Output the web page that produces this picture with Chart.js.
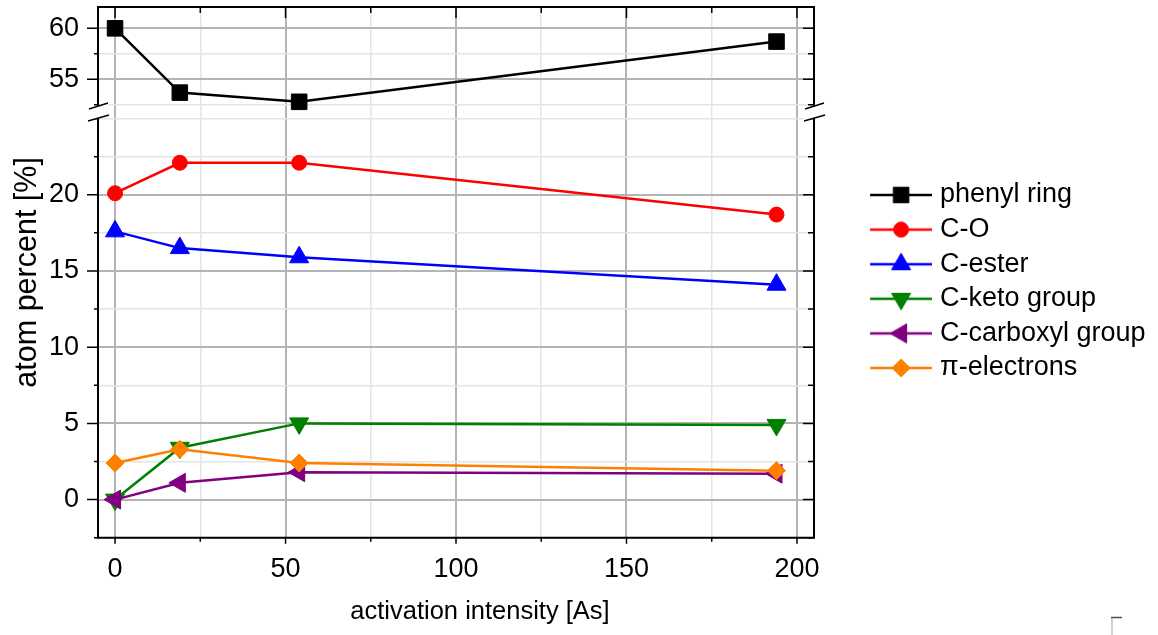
<!DOCTYPE html>
<html>
<head>
<meta charset="utf-8">
<script src="https://cdn.jsdelivr.net/npm/chart.js@4/dist/chart.umd.min.js"></script>
<style>
html, body { margin: 0; padding: 0; background: #fff; }
canvas { display: block; }
</style>
</head>
<body>
<canvas id="xpsChart" width="1158" height="635"></canvas>
<script>
// activation intensity [As]
const intensity = [0, 19, 54, 194];

// atom percent per carbon species
const phenylRing = [60.0, 53.7, 52.8, 58.7];
const cO = [20.1, 22.1, 22.1, 18.7];
const cEster = [17.6, 16.5, 15.9, 14.1];
const cKeto = [0.0, 3.4, 5.0, 4.9];
const cCarboxyl = [0.0, 1.1, 1.8, 1.7];
const piElectrons = [2.4, 3.3, 2.4, 1.9];

const seriesNames = ['phenyl ring', 'C-O', 'C-ester', 'C-keto group', 'C-carboxyl group', 'π-electrons'];

// labelled ticks
const xLabels = [0, 50, 100, 150, 200];
const yTopLabels = [55, 60];
const yBotLabels = [0, 5, 10, 15, 20];

const FONT = '"Liberation Sans", Arial, sans-serif';
const MAJOR = '#b4b4b4';
const MINOR = '#e4e4e4';
const LINE_W = 2.5;

const markers = [
  { color: '#000000', style: 'rect', rot: 0, r: 11 },
  { color: '#ff0000', style: 'circle', rot: 0, r: 7.5 },
  { color: '#0000ff', style: 'triangle', rot: 0, r: 11 },
  { color: '#008000', style: 'triangle', rot: 180, r: 11 },
  { color: '#800080', style: 'triangle', rot: 270, r: 11 },
  { color: '#ff8000', style: 'rectRot', rot: 0, r: 9 }
];
const values = [phenylRing, cO, cEster, cKeto, cCarboxyl, piElectrons];

// line + marker swatch for the legend
function legendSymbol(m) {
  const c = document.createElement('canvas');
  c.width = 116; c.height = 30;
  const g = c.getContext('2d');
  g.strokeStyle = m.color;
  g.fillStyle = m.color;
  g.lineWidth = LINE_W;
  g.beginPath(); g.moveTo(54, 15); g.lineTo(116, 15); g.stroke();
  g.lineWidth = 1;
  Chart.helpers.drawPoint(g, { pointStyle: m.style, rotation: m.rot, radius: m.r, borderWidth: 1 }, 85, 15);
  return c;
}
const symbols = markers.map(legendSymbol);

const datasets = values.map((v, i) => ({
  label: seriesNames[i],
  data: intensity.map((x, j) => ({ x: x, y: v[j] })),
  yAxisID: i === 0 ? 'yTop' : 'yBot',
  borderColor: markers[i].color,
  backgroundColor: markers[i].color,
  pointBackgroundColor: markers[i].color,
  pointBorderColor: markers[i].color,
  borderWidth: LINE_W,
  pointBorderWidth: 1,
  pointStyle: markers[i].style,
  pointRotation: markers[i].rot,
  pointRadius: markers[i].r,
  pointHoverRadius: markers[i].r,
  tension: 0,
  order: values.length - i
}));

const onStep = (v, s) => Math.abs(v / s - Math.round(v / s)) < 1e-6;
const keepSteps = step => axis => { axis.ticks = axis.ticks.filter(t => onStep(t.value, step)); };
const gridColor = labels => ctx => (ctx.tick && labels.includes(ctx.tick.value)) ? MAJOR : MINOR;
const gridWidth = labels => ctx => (ctx.tick && labels.includes(ctx.tick.value)) ? 2 : 1.5;
const noPadding = s => { s.paddingTop = 0; s.paddingBottom = 0; s.paddingLeft = 0; s.paddingRight = 0; };

function yScale(min, max, weight, labels) {
  return {
    type: 'linear',
    position: 'left',
    stack: 'y',
    stackWeight: weight,
    min: min,
    max: max,
    afterBuildTicks: keepSteps(2.5),
    afterFit: s => { s.width = 98; noPadding(s); },
    border: { display: false },
    grid: { drawTicks: false, color: gridColor(labels), lineWidth: gridWidth(labels) },
    ticks: {
      stepSize: 2.5, includeBounds: false, autoSkip: false, padding: 19, color: '#000',
      font: { family: FONT, size: 27 },
      callback: v => labels.includes(v) ? String(v) : ''
    }
  };
}

// frame, tick marks, axis break and axis titles
const framePlugin = {
  id: 'frame',
  afterDraw(chart) {
    const { ctx, chartArea: a, scales } = chart;
    const yt = scales.yTop, yb = scales.yBot, xs = scales.x;
    const split = yt.top <= a.top + 1 ? yt.bottom : yt.top;
    ctx.save();
    ctx.strokeStyle = '#000';
    ctx.lineWidth = 2;
    ctx.beginPath();
    ctx.moveTo(a.left, a.top); ctx.lineTo(a.right, a.top);
    ctx.moveTo(a.left, a.bottom); ctx.lineTo(a.right, a.bottom);
    ctx.moveTo(a.left, a.top - 1); ctx.lineTo(a.left, a.bottom + 1);
    ctx.moveTo(a.right, a.top - 1); ctx.lineTo(a.right, a.bottom + 1);
    ctx.stroke();

    ctx.lineWidth = 1.5;
    ctx.beginPath();
    xs.ticks.forEach(t => {
      const px = xs.getPixelForValue(t.value);
      const major = xLabels.includes(t.value);
      ctx.moveTo(px, a.bottom); ctx.lineTo(px, a.bottom + (major ? 6 : 4));
      ctx.moveTo(px, a.top); ctx.lineTo(px, a.top + (major ? 11 : 6));
    });
    [[yt, yTopLabels], [yb, yBotLabels]].forEach(([s, labels]) => {
      s.ticks.forEach(t => {
        const py = s.getPixelForValue(t.value);
        const major = labels.includes(t.value);
        ctx.moveTo(a.left, py); ctx.lineTo(a.left - (major ? 11 : 4), py);
        ctx.moveTo(a.right, py); ctx.lineTo(a.right - (major ? 11 : 6), py);
      });
    });
    ctx.stroke();

    // break marks on both vertical edges
    [a.left, a.right].forEach(x => {
      ctx.fillStyle = '#fff';
      ctx.beginPath();
      ctx.moveTo(x - 9, split - 3); ctx.lineTo(x + 10, split - 9);
      ctx.lineTo(x + 11, split + 3); ctx.lineTo(x - 10, split + 9);
      ctx.closePath();
      ctx.fill();
      ctx.strokeStyle = '#000';
      ctx.lineWidth = 1.5;
      ctx.beginPath();
      ctx.moveTo(x - 9, split - 3); ctx.lineTo(x + 10, split - 9);
      ctx.moveTo(x - 10, split + 9); ctx.lineTo(x + 11, split + 3);
      ctx.stroke();
    });

    ctx.fillStyle = '#000';
    ctx.textAlign = 'center';
    ctx.textBaseline = 'middle';
    ctx.font = '25.5px ' + FONT;
    ctx.fillText('activation intensity [As]', 480, 612);
    ctx.save();
    ctx.translate(28, (a.top + a.bottom) / 2);
    ctx.rotate(-Math.PI / 2);
    ctx.font = '30.5px ' + FONT;
    ctx.fillText('atom percent [%]', 0, 0);
    ctx.restore();

    // small corner mark at the lower right
    ctx.lineWidth = 1.5;
    ctx.strokeStyle = '#c0c0c0';
    ctx.beginPath(); ctx.moveTo(1112, 618); ctx.lineTo(1112, 635); ctx.stroke();
    ctx.strokeStyle = '#505050';
    ctx.beginPath(); ctx.moveTo(1111, 617.5); ctx.lineTo(1122, 617.5); ctx.stroke();
    ctx.restore();
  }
};

new Chart(document.getElementById('xpsChart'), {
  type: 'line',
  data: { datasets: datasets },
  options: {
    responsive: false,
    animation: false,
    devicePixelRatio: 1,
    layout: { autoPadding: false, padding: { top: 7, bottom: 35, left: 0, right: 2.4 } },
    plugins: {
      tooltip: { enabled: false },
      legend: {
        position: 'right',
        align: 'center',
        fullSize: false,
        maxWidth: 400,
        title: { display: true, text: '', padding: 0, font: { size: 18.3, lineHeight: 1 } },
        labels: {
          usePointStyle: true,
          pointStyleWidth: 104.9,
          padding: 7.6,
          color: '#000',
          font: { family: FONT, size: 27 },
          generateLabels: () => seriesNames.map((name, i) => ({
            text: name,
            pointStyle: symbols[i],
            rotation: 0,
            fillStyle: markers[i].color,
            strokeStyle: markers[i].color,
            lineWidth: 0,
            hidden: false,
            datasetIndex: i,
            fontColor: '#000'
          }))
        }
      }
    },
    scales: {
      x: {
        type: 'linear',
        min: -5,
        max: 205,
        afterBuildTicks: keepSteps(25),
        afterFit: s => { s.height = 62.3; noPadding(s); },
        border: { display: false },
        grid: { drawTicks: false, color: gridColor(xLabels), lineWidth: gridWidth(xLabels) },
        ticks: {
          stepSize: 25, includeBounds: false, autoSkip: false, maxRotation: 0, padding: 16, color: '#000',
          font: { family: FONT, size: 27 },
          callback: v => xLabels.includes(v) ? String(v) : ''
        }
      },
      yBot: yScale(-2.5, 25.43, 425.7, yBotLabels),
      yTop: yScale(51.8, 62.09, 105, yTopLabels)
    }
  },
  plugins: [framePlugin]
});
</script>
</body>
</html>
